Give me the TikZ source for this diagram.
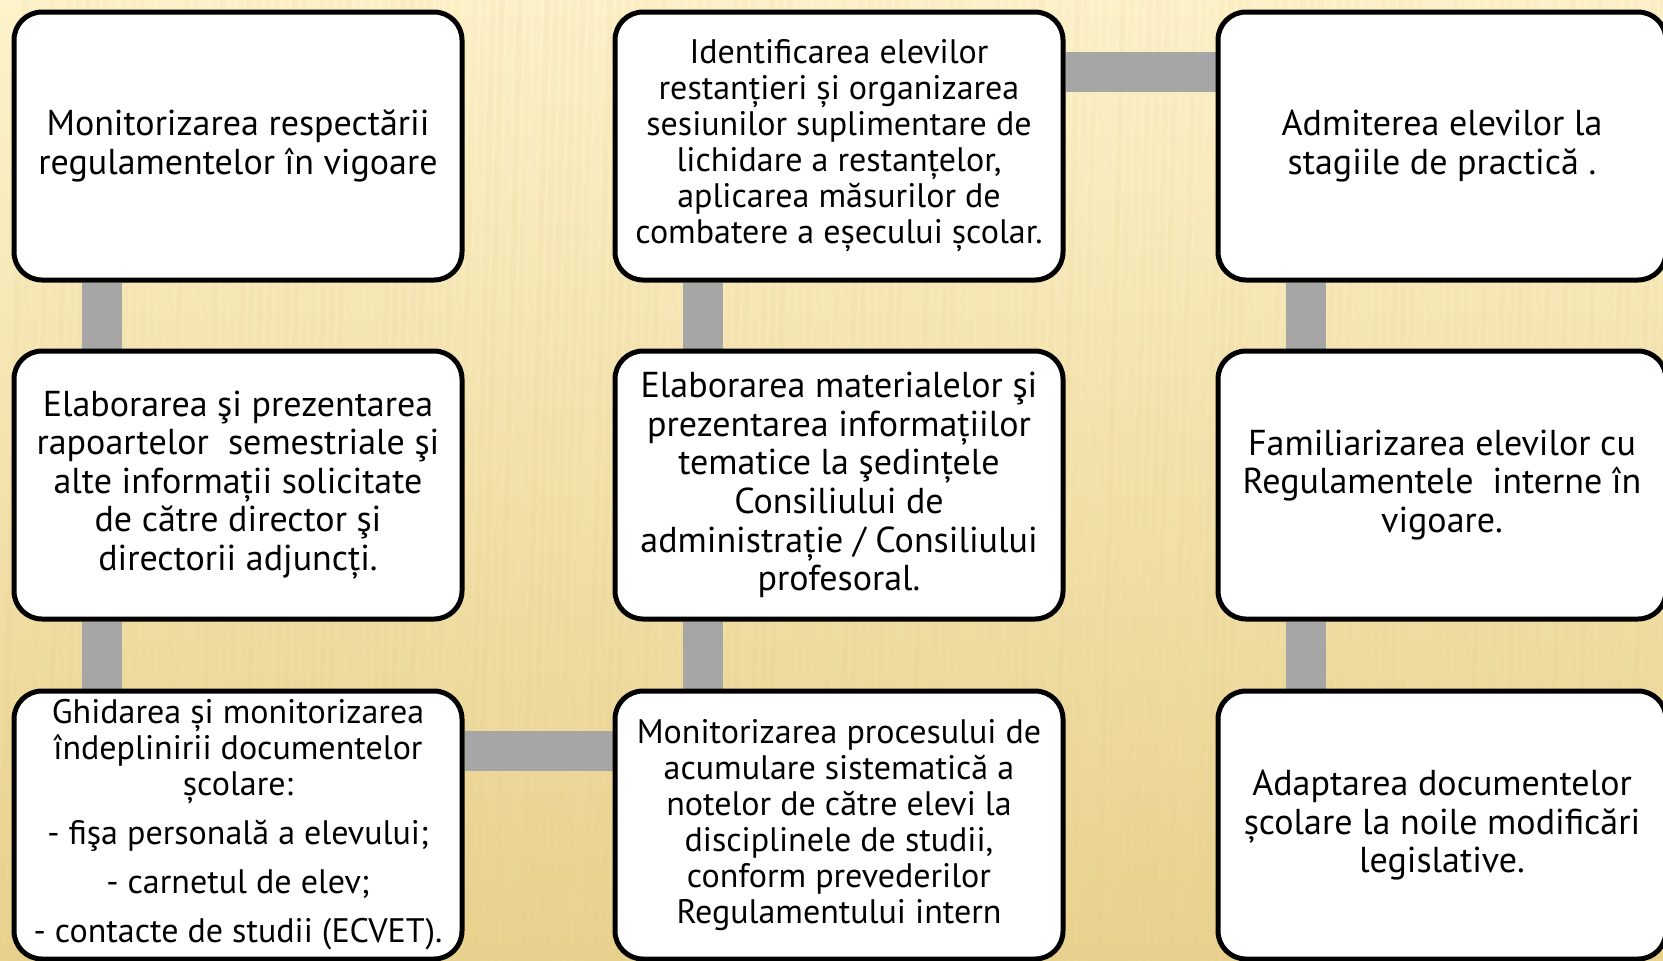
\documentclass[tikz,border=0pt]{standalone}
\usepackage{fontspec}
\setmainfont{PT Sans}
\usetikzlibrary{calc}

\pgfdeclarelayer{bg}
\pgfdeclarelayer{links}
\pgfsetlayers{bg,links,main}

\definecolor{linkgray}{HTML}{A6A6A6}
\definecolor{paperlight}{HTML}{FDF2CB}
\definecolor{paperdark}{HTML}{E9D28E}

\tikzstyle{box}=[draw=black,fill=white,line width=2.5pt,rounded corners=14pt,minimum width=224pt,minimum height=134pt,align=center,inner sep=1pt,font=\fontsize{18}{19.3}\selectfont]
\tikzstyle{small box}=[box,font=\fontsize{17}{18}\selectfont]
\tikzstyle{link}=[draw=linkgray,line width=20pt]

\begin{document}
\begin{tikzpicture}[x=0.5pt,y=-0.5pt]
	\useasboundingbox (0,0) rectangle (1663,960);
	%First column
	\node[box] (b11) at (238,146) {Monitorizarea respectării\\regulamentelor în vigoare};
	\node[box] (b12) at (238,485) {Elaborarea şi prezentarea\\rapoartelor~ semestriale şi\\alte informații solicitate\\de către director şi\\directorii adjuncți.};
	\node[small box] (b13) at (238,825) {Ghidarea și monitorizarea\\îndeplinirii documentelor\\școlare:\\[6.5pt]- fişa personală a elevului;\\[6.5pt]- carnetul de elev;\\[6.5pt]- contacte de studii (ECVET).};
	%Second column
	\node[small box] (b21) at (839,146) {Identificarea elevilor\\restanțieri și organizarea\\sesiunilor suplimentare de\\lichidare a restanțelor,\\aplicarea măsurilor de\\combatere a eșecului școlar.};
	\node[box] (b22) at (839,485) {Elaborarea materialelor şi\\prezentarea informațiilor\\tematice la şedințele\\Consiliului de\\administrație / Consiliului\\profesoral.};
	\node[small box] (b23) at (839,825) {Monitorizarea procesului de\\acumulare sistematică a\\notelor de către elevi la\\disciplinele de studii,\\conform prevederilor\\Regulamentului intern};
	%Third column
	\node[box] (b31) at (1442,146) {Admiterea elevilor la\\stagiile de practică .};
	\node[box] (b32) at (1442,485) {Familiarizarea elevilor cu\\Regulamentele~ interne în\\vigoare.};
	\node[box] (b33) at (1442,825) {Adaptarea documentelor\\școlare la noile modificări\\legislative.};
	%The connecting bars
	\begin{pgfonlayer}{links}
		\foreach \a/\b in {b11/b12, b12/b13, b21/b22, b22/b23, b31/b32, b32/b33}
			\draw[link] ($(\a.south west)+(90,0)$) -- ($(\b.north west)+(90,0)$);
		\foreach \a/\b in {b13/b23, b21/b31}
			\draw[link] ($(\a.north east)+(0,62)$) -- ($(\b.north west)+(0,62)$);
	\end{pgfonlayer}
	%Paper background
	\begin{pgfonlayer}{bg}
		\shade[top color=paperlight,middle color=paperlight!75!paperdark,bottom color=paperdark] (0,0) rectangle (1663,960);
		\pgfmathsetseed{7}
		\foreach \x in {0,9,...,1700}{
			\pgfmathsetmacro\op{0.03+0.09*rnd}
			\draw[paperdark!85!brown,line width=3pt,opacity=\op] (\x,960) -- (\x+25,0);
		}
	\end{pgfonlayer}
\end{tikzpicture}
\end{document}
